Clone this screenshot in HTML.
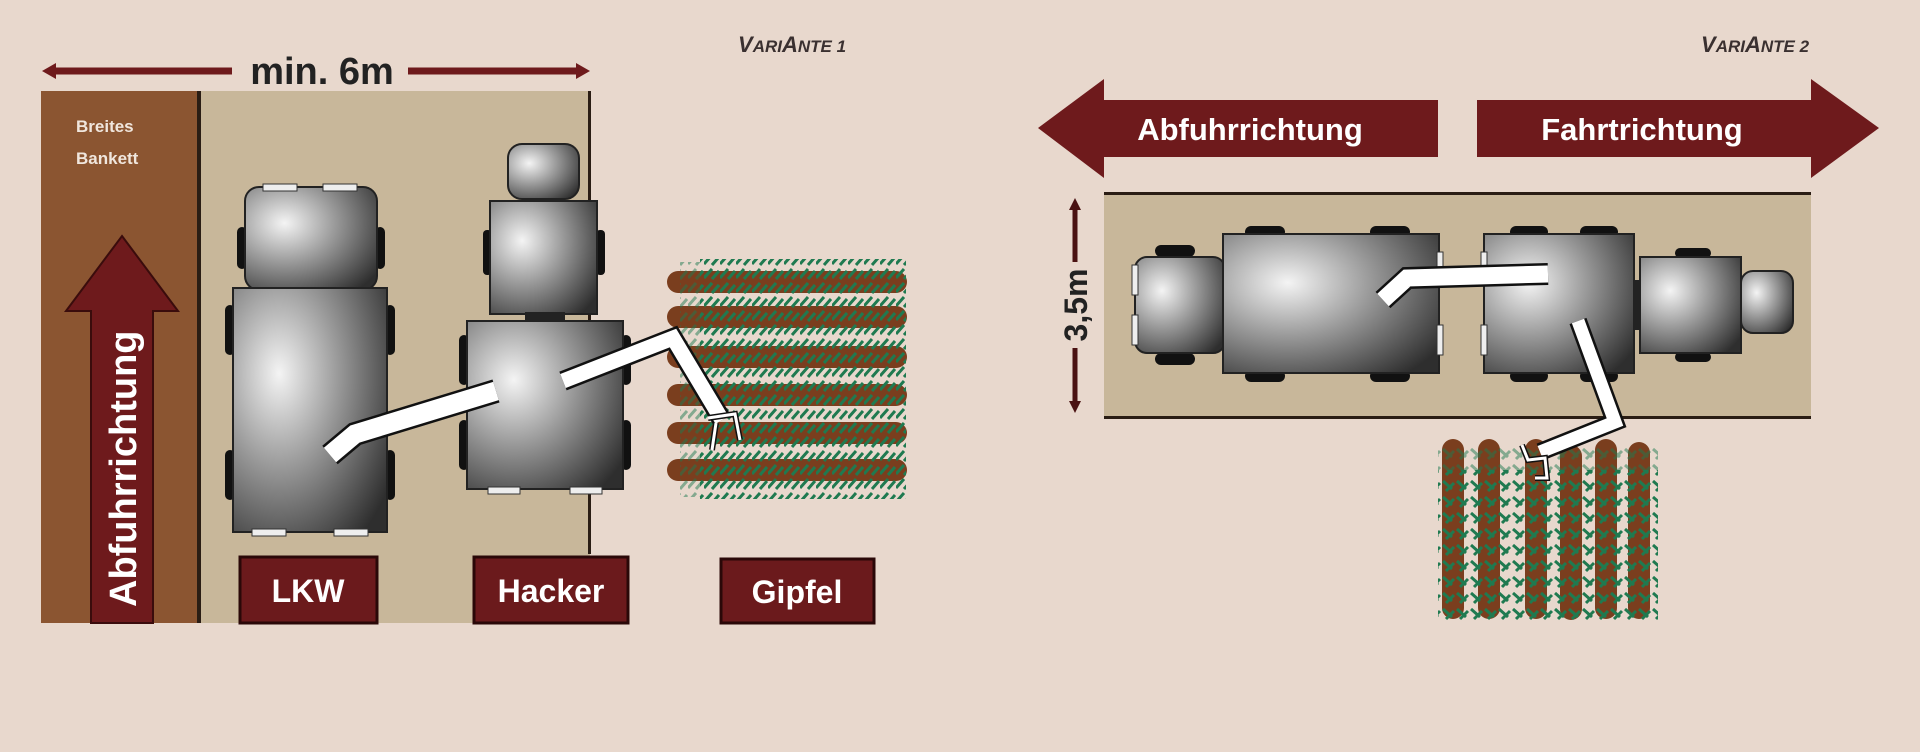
<!DOCTYPE html>
<html><head><meta charset="utf-8"><style>
html,body{margin:0;padding:0;background:#e8d8cd;}
svg{display:block;}
text{font-family:"Liberation Sans",sans-serif;}
</style></head><body>
<svg width="1920" height="752" viewBox="0 0 1920 752" xmlns="http://www.w3.org/2000/svg">
<defs>
<radialGradient id="g" cx="0.3" cy="0.35" r="0.85">
<stop offset="0" stop-color="#f4f4f4"/><stop offset="0.45" stop-color="#9a9a9a"/><stop offset="1" stop-color="#2e2e2e"/>
</radialGradient>
<pattern id="fol" width="16" height="14" patternUnits="userSpaceOnUse">
<path d="M0 12 L8 3 M8 13 L15 5" stroke="#1f7a50" stroke-width="3" fill="none"/>
</pattern>
<pattern id="folv" width="14" height="16" patternUnits="userSpaceOnUse">
<path d="M1 1 L10 9 M12 3 L4 11" stroke="#1f7a50" stroke-width="3" fill="none"/>
</pattern>
</defs>
<rect width="1920" height="752" fill="#e8d8cd"/>

<!-- LEFT PANEL -->
<text x="738" y="52" font-size="22" font-style="italic" font-weight="bold" fill="#3a3030">V<tspan font-size="17">ARI</tspan>A<tspan font-size="17">NTE 1</tspan></text>
<line x1="52" y1="71" x2="232" y2="71" stroke="#6e1a1c" stroke-width="7"/>
<line x1="408" y1="71" x2="580" y2="71" stroke="#6e1a1c" stroke-width="7"/>
<polygon points="42,71 56,63 56,79" fill="#6e1a1c"/>
<polygon points="590,71 576,63 576,79" fill="#6e1a1c"/>
<text x="322" y="84" font-size="38" font-weight="bold" fill="#222" text-anchor="middle">min. 6m</text>

<rect x="41" y="91" width="158" height="532" fill="#8b5531"/>
<rect x="199" y="91" width="391" height="532" fill="#c8b79a"/>
<rect x="197" y="91" width="4" height="532" fill="#2a1d14"/>
<rect x="588" y="91" width="3" height="463" fill="#2a1d14"/>
<rect x="590" y="554" width="40" height="69" fill="#e8d8cd"/>
<text x="76" y="132" font-size="17" font-weight="bold" fill="#f0e6dd">Breites</text>
<text x="76" y="164" font-size="17" font-weight="bold" fill="#f0e6dd">Bankett</text>

<polygon points="122,236 178,311 153,311 153,623 91,623 91,311 66,311" fill="#6e1a1c" stroke="#3a0c0c" stroke-width="2"/>
<text transform="translate(136,607) rotate(-90)" font-size="38" font-weight="bold" fill="#fff">Abfuhrrichtung</text>

<!-- LKW -->
<rect x="237" y="227" width="10" height="42" rx="5" fill="#111"/><rect x="375" y="227" width="10" height="42" rx="5" fill="#111"/>
<rect x="225" y="305" width="10" height="50" rx="5" fill="#111"/><rect x="385" y="305" width="10" height="50" rx="5" fill="#111"/>
<rect x="225" y="450" width="10" height="50" rx="5" fill="#111"/><rect x="385" y="450" width="10" height="50" rx="5" fill="#111"/>
<rect x="245" y="187" width="132" height="103" rx="14" fill="url(#g)" stroke="#222" stroke-width="2"/>
<rect x="263" y="184" width="34" height="7" fill="#eee" stroke="#333"/><rect x="323" y="184" width="34" height="7" fill="#eee" stroke="#333"/>
<rect x="233" y="288" width="154" height="244" fill="url(#g)" stroke="#222" stroke-width="2"/>
<rect x="252" y="529" width="34" height="7" fill="#eee" stroke="#333"/><rect x="334" y="529" width="34" height="7" fill="#eee" stroke="#333"/>

<!-- Hacker -->
<rect x="508" y="144" width="71" height="55" rx="14" fill="url(#g)" stroke="#222" stroke-width="2"/>
<rect x="483" y="230" width="9" height="45" rx="4" fill="#111"/><rect x="596" y="230" width="9" height="45" rx="4" fill="#111"/>
<rect x="490" y="201" width="107" height="113" fill="url(#g)" stroke="#222" stroke-width="2"/>
<rect x="525" y="312" width="40" height="10" fill="#222"/>
<rect x="459" y="335" width="10" height="50" rx="5" fill="#111"/><rect x="621" y="335" width="10" height="50" rx="5" fill="#111"/>
<rect x="459" y="420" width="10" height="50" rx="5" fill="#111"/><rect x="621" y="420" width="10" height="50" rx="5" fill="#111"/>
<rect x="467" y="321" width="156" height="168" fill="url(#g)" stroke="#222" stroke-width="2"/>
<rect x="488" y="487" width="32" height="7" fill="#eee" stroke="#333"/><rect x="570" y="487" width="32" height="7" fill="#eee" stroke="#333"/>

<!-- Gipfel trees left -->
<g>
<rect x="667" y="271" width="240" height="22" rx="11" fill="#7a3e1e"/>
<rect x="667" y="306" width="240" height="22" rx="11" fill="#7a3e1e"/>
<rect x="667" y="346" width="240" height="22" rx="11" fill="#7a3e1e"/>
<rect x="667" y="384" width="240" height="22" rx="11" fill="#7a3e1e"/>
<rect x="667" y="422" width="240" height="22" rx="11" fill="#7a3e1e"/>
<rect x="667" y="459" width="240" height="22" rx="11" fill="#7a3e1e"/>
<rect x="700" y="259" width="206" height="240" fill="url(#fol)"/>
<rect x="680" y="262" width="40" height="235" fill="url(#fol)" opacity="0.5"/>
</g>
<!-- chutes left -->
<polyline points="330,455 355,434 496,391" fill="none" stroke="#111" stroke-width="24"/>
<polyline points="330,455 355,434 496,391" fill="none" stroke="#fff" stroke-width="19"/>
<polyline points="563,381 673,338 722,420" fill="none" stroke="#111" stroke-width="20"/>
<polyline points="563,381 673,338 722,420" fill="none" stroke="#fff" stroke-width="15"/>
<path d="M708,418 L735,414 L740,440 M716,423 L712,450" fill="none" stroke="#111" stroke-width="6"/>
<path d="M708,418 L735,414 L740,440 M716,423 L712,450" fill="none" stroke="#fff" stroke-width="3"/>

<!-- Labels -->
<rect x="240" y="557" width="137" height="66" fill="#6b1a1c" stroke="#2a0808" stroke-width="3"/>
<text x="308" y="602" font-size="32" font-weight="bold" fill="#fff" text-anchor="middle">LKW</text>
<rect x="474" y="557" width="154" height="66" fill="#6b1a1c" stroke="#2a0808" stroke-width="3"/>
<text x="551" y="602" font-size="32" font-weight="bold" fill="#fff" text-anchor="middle">Hacker</text>
<rect x="721" y="559" width="153" height="64" fill="#6b1a1c" stroke="#2a0808" stroke-width="3"/>
<text x="797" y="603" font-size="32" font-weight="bold" fill="#fff" text-anchor="middle">Gipfel</text>

<!-- RIGHT PANEL -->
<text x="1701" y="52" font-size="22" font-style="italic" font-weight="bold" fill="#3a3030">V<tspan font-size="17">ARI</tspan>A<tspan font-size="17">NTE 2</tspan></text>
<polygon points="1038,128 1104,79 1104,100 1438,100 1438,157 1104,157 1104,178" fill="#6e1a1c"/>
<polygon points="1879,128 1811,79 1811,100 1477,100 1477,157 1811,157 1811,178" fill="#6e1a1c"/>
<text x="1250" y="140" font-size="31" font-weight="bold" fill="#fff" text-anchor="middle">Abfuhrrichtung</text>
<text x="1642" y="140" font-size="31" font-weight="bold" fill="#fff" text-anchor="middle">Fahrtrichtung</text>

<rect x="1104" y="193" width="707" height="225" fill="#c8b79a"/>
<rect x="1104" y="192" width="707" height="3" fill="#2a1d14"/>
<rect x="1104" y="416" width="707" height="3" fill="#2a1d14"/>
<line x1="1075" y1="206" x2="1075" y2="262" stroke="#4a1212" stroke-width="5"/>
<line x1="1075" y1="348" x2="1075" y2="405" stroke="#4a1212" stroke-width="5"/>
<polygon points="1075,198 1069,210 1081,210" fill="#4a1212"/>
<polygon points="1075,413 1069,401 1081,401" fill="#4a1212"/>
<text transform="translate(1087,305) rotate(-90)" font-size="32" font-weight="bold" fill="#222" text-anchor="middle">3,5m</text>

<!-- vehicles right -->
<rect x="1155" y="245" width="40" height="12" rx="6" fill="#111"/><rect x="1155" y="353" width="40" height="12" rx="6" fill="#111"/>
<rect x="1135" y="257" width="90" height="96" rx="12" fill="url(#g)" stroke="#222" stroke-width="2"/>
<rect x="1132" y="265" width="6" height="30" fill="#eee" stroke="#333"/><rect x="1132" y="315" width="6" height="30" fill="#eee" stroke="#333"/>
<rect x="1245" y="226" width="40" height="12" rx="6" fill="#111"/><rect x="1370" y="226" width="40" height="12" rx="6" fill="#111"/>
<rect x="1245" y="370" width="40" height="12" rx="6" fill="#111"/><rect x="1370" y="370" width="40" height="12" rx="6" fill="#111"/>
<rect x="1223" y="234" width="216" height="139" fill="url(#g)" stroke="#222" stroke-width="2"/>
<rect x="1437" y="252" width="6" height="30" fill="#eee" stroke="#333"/><rect x="1437" y="325" width="6" height="30" fill="#eee" stroke="#333"/>
<rect x="1510" y="226" width="38" height="12" rx="6" fill="#111"/><rect x="1580" y="226" width="38" height="12" rx="6" fill="#111"/>
<rect x="1510" y="370" width="38" height="12" rx="6" fill="#111"/><rect x="1580" y="370" width="38" height="12" rx="6" fill="#111"/>
<rect x="1484" y="234" width="150" height="139" fill="url(#g)" stroke="#222" stroke-width="2"/>
<rect x="1481" y="252" width="6" height="30" fill="#eee" stroke="#333"/><rect x="1481" y="325" width="6" height="30" fill="#eee" stroke="#333"/>
<rect x="1634" y="280" width="8" height="50" fill="#222"/>
<rect x="1675" y="248" width="36" height="10" rx="5" fill="#111"/><rect x="1675" y="352" width="36" height="10" rx="5" fill="#111"/>
<rect x="1640" y="257" width="101" height="96" fill="url(#g)" stroke="#222" stroke-width="2"/>
<rect x="1741" y="271" width="52" height="62" rx="12" fill="url(#g)" stroke="#222" stroke-width="2"/>

<!-- trees right -->
<g>
<rect x="1442" y="439" width="22" height="180" rx="11" fill="#7a3e1e"/>
<rect x="1478" y="439" width="22" height="180" rx="11" fill="#7a3e1e"/>
<rect x="1525" y="439" width="22" height="180" rx="11" fill="#7a3e1e"/>
<rect x="1560" y="445" width="22" height="175" rx="11" fill="#7a3e1e"/>
<rect x="1595" y="439" width="22" height="180" rx="11" fill="#7a3e1e"/>
<rect x="1628" y="442" width="22" height="177" rx="11" fill="#7a3e1e"/>
<rect x="1438" y="470" width="220" height="153" fill="url(#folv)"/>
<rect x="1438" y="445" width="220" height="30" fill="url(#folv)" opacity="0.5"/>
</g>
<polyline points="1383,300 1407,278 1548,274" fill="none" stroke="#111" stroke-width="22"/>
<polyline points="1383,300 1407,278 1548,274" fill="none" stroke="#fff" stroke-width="17"/>
<polyline points="1578,321 1615,422 1540,452" fill="none" stroke="#111" stroke-width="18"/>
<polyline points="1578,321 1615,422 1540,452" fill="none" stroke="#fff" stroke-width="13"/>
<path d="M1522,445 L1528,460 L1545,458 L1547,478 L1535,478" fill="none" stroke="#111" stroke-width="6"/>
<path d="M1522,445 L1528,460 L1545,458 L1547,478 L1535,478" fill="none" stroke="#fff" stroke-width="3"/>
</svg>
</body></html>
